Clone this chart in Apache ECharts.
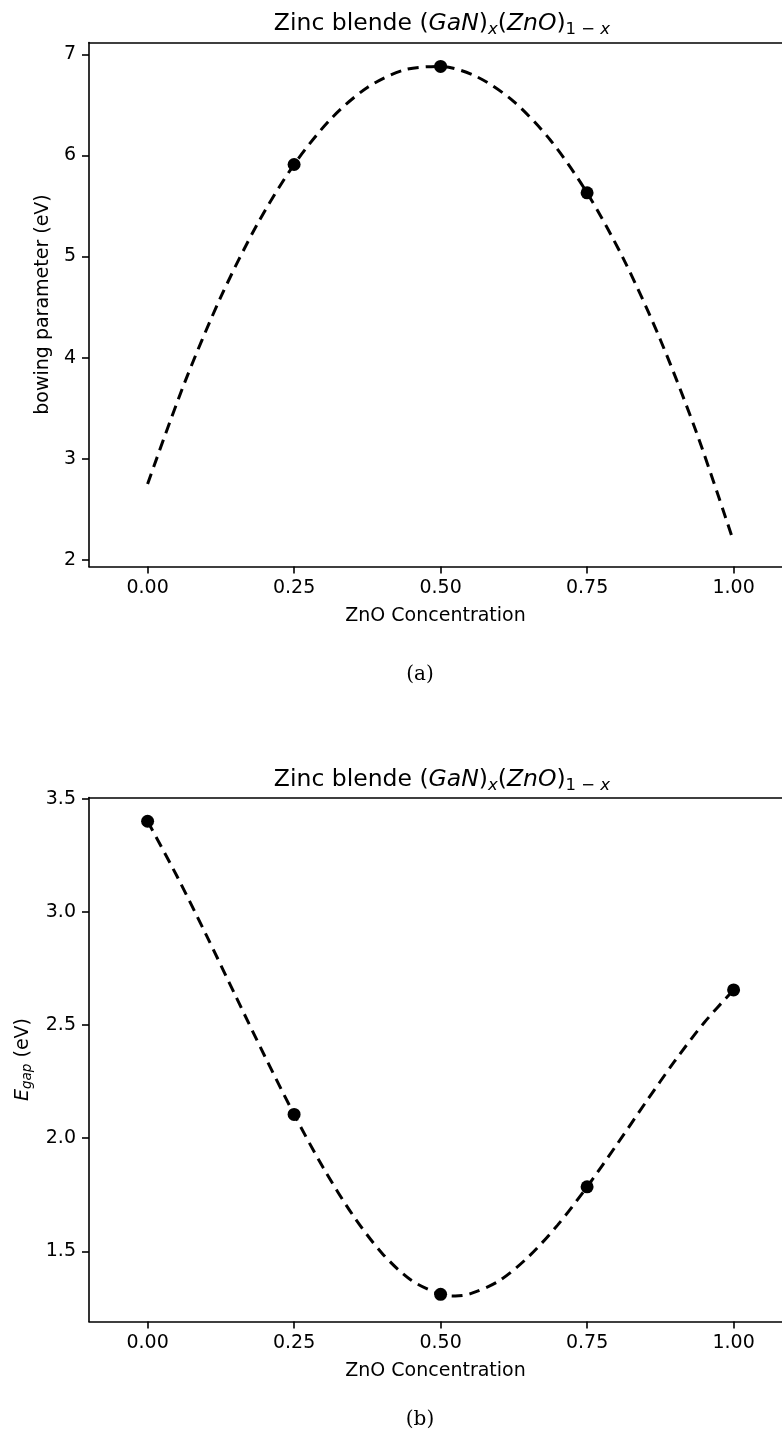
<!DOCTYPE html>
<html>
<head>
<meta charset="utf-8">
<script src="https://cdn.jsdelivr.net/npm/echarts@6/dist/echarts.min.js"></script>
<style>
html,body{margin:0;padding:0;background:#fff;}
#chart{width:782px;height:1444px;}
</style>
</head>
<body>
<div id="chart"></div>
<script>
// ---- Data ----
var xTicks = [0, 0.25, 0.5, 0.75, 1.0];
var yTicksA = [2, 3, 4, 5, 6, 7];
var yTicksB = [1.5, 2.0, 2.5, 3.0, 3.5];

// (a) bowing parameter: computed points
var pointsAx = [0.25, 0.5, 0.75];
var pointsAy = [5.91, 6.88, 5.63];
// (a) dashed fit curve
var curveAx = [0, 0.0625, 0.125, 0.1875, 0.25, 0.3125, 0.375, 0.4375, 0.5, 0.5625, 0.625, 0.6875, 0.75, 0.8125, 0.875, 0.9375, 1.0];
var curveAy = [2.75, 3.742, 4.60, 5.323, 5.91, 6.36, 6.672, 6.845, 6.88, 6.776, 6.532, 6.15, 5.63, 4.972, 4.177, 3.246, 2.18];

// (b) band gap: computed points
var pointsBx = [0, 0.25, 0.5, 0.75, 1.0];
var pointsBy = [3.40, 2.105, 1.31, 1.785, 2.655];
// (b) dashed spline curve
var curveBx = [0, 0.05, 0.1, 0.15, 0.2, 0.25, 0.3, 0.35, 0.4, 0.45, 0.5, 0.525, 0.55, 0.6, 0.65, 0.7, 0.75, 0.8, 0.85, 0.9, 0.95, 1.0];
var curveBy = [3.40, 3.158, 2.898, 2.629, 2.362, 2.105, 1.868, 1.661, 1.492, 1.372, 1.31, 1.303, 1.312, 1.37, 1.476, 1.617, 1.785, 1.969, 2.158, 2.342, 2.511, 2.655];

function pairs(xs, ys){ return xs.map(function(x,i){ return [x, ys[i]]; }); }

var FONT = 'DejaVu Sans';
var titleRich = {
  r:  {fontFamily: FONT, fontSize: 23.5, fontWeight: 'normal', color: '#000', lineHeight: 28},
  i:  {fontFamily: FONT, fontSize: 23.5, fontWeight: 'normal', fontStyle: 'italic', color: '#000', lineHeight: 28},
  s:  {fontFamily: FONT, fontSize: 16.5, fontWeight: 'normal', fontStyle: 'italic', color: '#000', lineHeight: 16, verticalAlign: 'bottom'},
  sr: {fontFamily: FONT, fontSize: 16.5, fontWeight: 'normal', color: '#000', lineHeight: 16, verticalAlign: 'bottom'}
};
var titleText = '{r|Zinc blende (}{i|GaN}{r|)}{s|x}{r|(}{i|ZnO}{r|)}{sr|1 − }{s|x}';

var X_MIN = -0.1, X_MAX = 1.0826;

function xAxisCfg(gi){
  return {
    type: 'value', gridIndex: gi, min: X_MIN, max: X_MAX, position: 'bottom',
    name: 'ZnO Concentration', nameLocation: 'middle', nameGap: 40,
    nameTextStyle: {fontFamily: FONT, fontSize: 19, color: '#000'},
    axisLine: {show: true, onZero: false, lineStyle: {color: '#000', width: 1.6}},
    axisTick: {show: true, inside: false, length: 7, lineStyle: {color: '#000', width: 1.6}, customValues: xTicks},
    axisLabel: {show: true, margin: 12, fontFamily: FONT, fontSize: 19, color: '#000', customValues: xTicks,
      formatter: function(v){ return v.toFixed(2); }},
    splitLine: {show: false}
  };
}
function topSpine(gi){
  return {
    type: 'value', gridIndex: gi, min: X_MIN, max: X_MAX, position: 'top',
    axisLine: {show: true, onZero: false, lineStyle: {color: '#000', width: 1.6}},
    axisTick: {show: false}, axisLabel: {show: false}, splitLine: {show: false}
  };
}

var option = {
  backgroundColor: '#fff',
  animation: false,
  title: [
    {text: titleText, left: 437, top: 5, textAlign: 'center', textStyle: {fontWeight: 'normal', rich: titleRich}},
    {text: titleText, left: 437, top: 761, textAlign: 'center', textStyle: {fontWeight: 'normal', rich: titleRich}}
  ],
  grid: [
    {left: 89, top: 42.5, width: 693, height: 524, show: false},
    {left: 89, top: 797.5, width: 693, height: 524, show: false}
  ],
  xAxis: [xAxisCfg(0), xAxisCfg(1), topSpine(0), topSpine(1)],
  yAxis: [
    {
      type: 'value', gridIndex: 0, min: 1.934, max: 7.117,
      name: 'bowing parameter (eV)', nameLocation: 'middle', nameGap: 31,
      nameTextStyle: {fontFamily: FONT, fontSize: 19, color: '#000'},
      axisLine: {show: true, onZero: false, lineStyle: {color: '#000', width: 1.6}},
      axisTick: {show: true, length: 7, lineStyle: {color: '#000', width: 1.6}, customValues: yTicksA},
      axisLabel: {margin: 13, fontFamily: FONT, fontSize: 19, color: '#000', customValues: yTicksA,
        formatter: function(v){ return v.toFixed(0); }},
      splitLine: {show: false}
    },
    {
      type: 'value', gridIndex: 1, min: 1.19, max: 3.505,
      name: '{i|E}{s|gap}{r| (eV)}', nameLocation: 'middle', nameGap: 52,
      nameTextStyle: {rich: {
        i: {fontFamily: FONT, fontSize: 19, fontStyle: 'italic', color: '#000', lineHeight: 24},
        r: {fontFamily: FONT, fontSize: 19, color: '#000', lineHeight: 24},
        s: {fontFamily: FONT, fontSize: 13.5, fontStyle: 'italic', color: '#000', lineHeight: 14, verticalAlign: 'bottom'}
      }},
      axisLine: {show: true, onZero: false, lineStyle: {color: '#000', width: 1.6}},
      axisTick: {show: true, length: 7, lineStyle: {color: '#000', width: 1.6}, customValues: yTicksB},
      axisLabel: {margin: 13, fontFamily: FONT, fontSize: 19, color: '#000', customValues: yTicksB,
        formatter: function(v){ return v.toFixed(1); }},
      splitLine: {show: false}
    }
  ],
  series: [
    {type: 'line', xAxisIndex: 0, yAxisIndex: 0, data: pairs(curveAx, curveAy), smooth: 0.3,
     showSymbol: false, symbol: 'none', lineStyle: {color: '#000', width: 3, type: [11, 7]}, z: 2},
    {type: 'scatter', xAxisIndex: 0, yAxisIndex: 0, data: pairs(pointsAx, pointsAy),
     symbol: 'circle', symbolSize: 13, itemStyle: {color: '#000', opacity: 1}, z: 3},
    {type: 'line', xAxisIndex: 1, yAxisIndex: 1, data: pairs(curveBx, curveBy), smooth: 0.3,
     showSymbol: false, symbol: 'none', lineStyle: {color: '#000', width: 3, type: [11, 7]}, z: 2},
    {type: 'scatter', xAxisIndex: 1, yAxisIndex: 1, data: pairs(pointsBx, pointsBy),
     symbol: 'circle', symbolSize: 13, itemStyle: {color: '#000', opacity: 1}, z: 3}
  ],
  graphic: [
    {type: 'text', x: 420, y: 675, style: {text: '(a)', font: '20px "DejaVu Serif"', fill: '#000', align: 'center', verticalAlign: 'middle'}},
    {type: 'text', x: 420, y: 1420, style: {text: '(b)', font: '20px "DejaVu Serif"', fill: '#000', align: 'center', verticalAlign: 'middle'}}
  ]
};

var chart = echarts.init(document.getElementById('chart'), null, {renderer: 'canvas', width: 782, height: 1444});
chart.setOption(option);
</script>
</body>
</html>
